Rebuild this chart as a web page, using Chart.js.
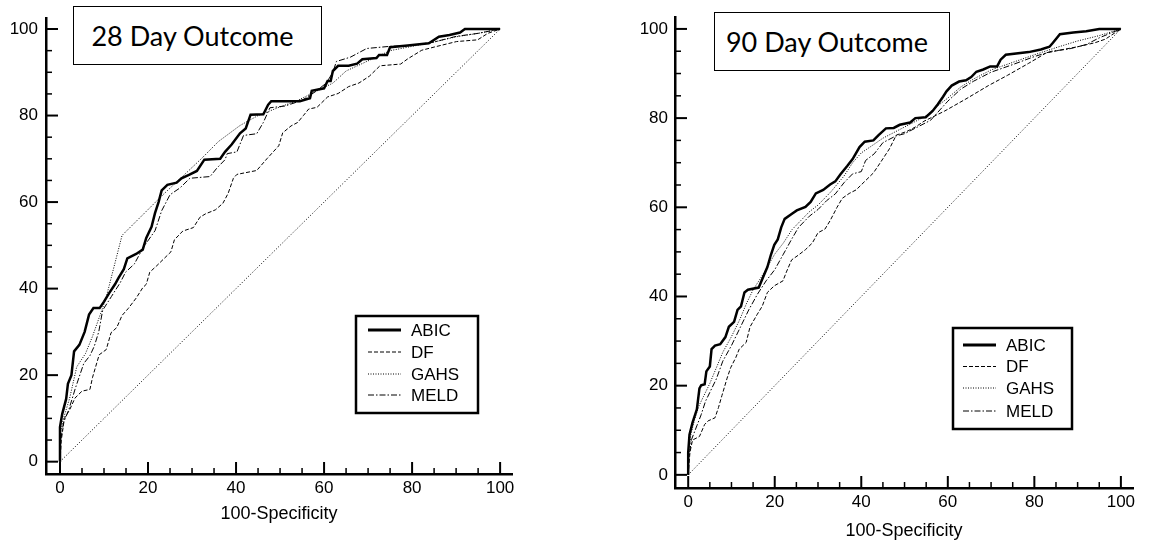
<!DOCTYPE html>
<html lang="en">
<head>
  <meta charset="UTF-8" />
  <title>ROC curves - 28 and 90 day outcome</title>
  <script src="https://cdn.jsdelivr.net/npm/chart.js"></script>
  <style>
    body { margin: 0; background: #fff; width: 1169px; height: 543px; position: relative; overflow: hidden; }
    canvas { position: absolute; top: 0; }
    .tag {
      position: absolute; box-sizing: border-box; border: 1.5px solid #000; background: #fff;
      font-family: Lato, "Open Sans", sans-serif; font-size: 27px; color: #000;
      display: flex; align-items: center; justify-content: center; padding-right: 10px;
    }
  </style>
</head>
<body>
  <canvas id="roc28" width="540" height="543" style="left:0"></canvas>
  <canvas id="roc90" width="569" height="543" style="left:600px"></canvas>
  <div class="tag" style="left:73px; top:6px; width:249px; height:59px;">28 Day Outcome</div>
  <div class="tag" style="left:714px; top:12px; width:236px; height:59px;">90 Day Outcome</div>

  <script>
    // tick labels and series names
    const tickValues = [0, 20, 40, 60, 80, 100];
    const minorStep = 5;
    const seriesNames = ["ABIC", "DF", "GAHS", "MELD"];
    const diagonal = [[0, 0], [100, 100]];

    // 28 day outcome: [100-specificity, sensitivity]
    const abic28 = [[0,0],[0,8],[0.5,11],[1.4,14.5],[1.8,18],[2.6,20],[3.2,25.5],[4.4,27],[5.6,30],[6.6,34],[7.6,35.5],[9,35.5],[10,37],[11.2,39],[12.5,41],[13.3,42.5],[14.5,44.5],[15.3,47],[17.3,48],[18.8,49],[19.6,51.7],[20.8,54.3],[21.6,57.5],[22.4,60],[23.1,62.7],[24.4,64],[26.5,64.5],[27.6,65.5],[29.3,66.3],[31.1,67.2],[32.8,69.8],[36.4,70],[37.5,71.6],[39,73.3],[40.9,75.9],[42.2,77],[43.3,80.2],[46.2,80.3],[47.3,82.5],[48,83.3],[54.5,83.3],[56.8,84],[57.2,85.7],[60,86.3],[60.8,88],[61.5,88],[62,90.3],[63.2,91.5],[65.6,91.5],[67.5,92],[68.7,93],[71.9,93.3],[72.5,94],[74.3,94],[75,95.8],[79,96.2],[83.8,96.7],[86.1,98.2],[88.5,98.6],[90.9,99.2],[92,100],[100,100]];
    const df28 = [[0,0],[0.3,5],[1,10],[2.2,12],[3.4,14.7],[5,16.3],[6.8,16.7],[7.4,19.5],[8.9,24.7],[10.5,25.9],[11.6,29.8],[12.9,31],[14.1,33.8],[15.5,35.4],[17.3,37.8],[18.8,40.2],[19.6,41],[20.4,43.8],[22,45.3],[23.6,46.9],[25.2,48.5],[26,51.3],[27.9,53.3],[30.3,54.1],[31.8,56.5],[33.1,57.3],[35.3,58.2],[37,59.7],[38.2,62],[39.4,65.5],[40.2,66.4],[44.7,67.3],[47,70],[49.7,73],[50.6,76],[52.5,77.6],[54,78.4],[55.3,80],[56.5,81.5],[58.4,81.9],[60.8,84.3],[63.2,85.1],[65.6,86.7],[67.9,87.5],[70.3,89.1],[72.7,91.5],[77.4,91.9],[79,93.1],[82.2,95.1],[85.3,95.9],[90.1,97.1],[94.9,97.5],[97.2,99],[100,100]];
    const gahs28 = [[0,0],[0,6],[0.8,10],[2.2,14.7],[3.8,21.9],[5.8,25],[7.4,29],[9.5,35],[10.5,38],[14.1,52.3],[23.4,61.7],[27.3,65.4],[32.5,70.4],[36,74],[40.9,77.7],[45,80],[50,82],[53.8,83.4],[58,85.5],[62,87.5],[65,90.3],[69.7,92.5],[75,95],[80,96],[85,97],[90,98.2],[95,99],[100,100]];
    const meld28 = [[0,0],[0,4],[0.8,9],[2,12],[3.5,17],[5.4,22.7],[6.8,24.5],[7.8,26.7],[8.8,30],[9.7,35],[11.7,38.2],[13.7,41.4],[14.9,43.8],[16.9,45.7],[18.9,49.5],[21.6,53.4],[23.1,58],[25,61.7],[27.3,63.3],[29.5,65.5],[34.1,65.9],[35.6,67.8],[37.5,69.8],[38,71.2],[40.2,71.6],[41.7,75.4],[44.7,75.8],[46.2,78.4],[47.7,81.8],[51.1,82.2],[55,83.5],[58,85.5],[60.5,87.5],[62,90],[62.8,92.5],[66,93.5],[69.7,95.5],[75,96],[80,96.2],[85,97],[90,98.3],[95,99],[100,100]];

    // 90 day outcome
    const abic90 = [[0,0],[0,5],[0.3,9],[1,11.7],[2,14.7],[2.6,19.4],[3,20.1],[3.8,20.3],[4.2,23.2],[5,24.3],[5.4,28.2],[6.2,29],[7.4,29.3],[8.6,30.9],[9.4,33.2],[10.6,34.3],[11.4,37],[12.2,37.8],[13,40.9],[13.8,41.5],[16.3,42],[17.3,44.3],[18.3,46.6],[19.1,49.3],[19.9,51.6],[20.7,52.8],[21.5,55.5],[22.3,57.4],[23.9,58.5],[25.1,59.3],[27.1,60.1],[28.3,61.2],[29.5,63.1],[31.2,63.9],[32.8,65.1],[34,65.8],[35.2,67.4],[36.8,69.3],[38,70.8],[39.6,73.5],[40.8,74.7],[42.8,75],[44,76.2],[45.7,77.7],[47.5,77.8],[48.9,78.5],[51.3,79],[52.5,80],[54.9,80.2],[56.5,81.6],[57.7,83.1],[58.9,84.8],[59.7,86],[60.9,87.3],[62.6,88.2],[64.2,88.5],[65.4,89.2],[66.6,90.4],[68.2,90.9],[69.8,91.6],[71.4,91.6],[72.2,93.1],[73.4,94.2],[78.7,94.8],[81.5,95.4],[83.5,96],[84.3,96.9],[85.9,98.8],[89,99.2],[92,99.5],[95,100],[100,100]];
    const df90 = [[0,0],[0.4,5],[1,7.8],[2.6,8.6],[3.8,11.3],[4.6,12.1],[6.2,12.8],[7,15.1],[7.8,17.8],[9,21.7],[9.8,24],[11,26.3],[11.8,28.2],[13.4,29.7],[14.3,33.2],[15.9,35.9],[17.1,37.8],[18.3,40.9],[19.9,42.4],[21.9,43.5],[22.7,45.5],[23.9,48.2],[25.5,49.3],[27.1,50.5],[28.7,52],[30,54.3],[31.6,55.1],[32.8,57],[34.4,60],[35.6,62],[37.2,63.1],[38.8,63.9],[40.8,65.8],[42.8,67.7],[44.4,70],[46.5,73.1],[48.1,76.2],[50.5,77],[52.5,78],[54.5,79.3],[59.3,81.6],[64.2,84.3],[69.4,87.3],[73.8,89.6],[78.7,92.3],[82.7,94.6],[86.7,95.4],[90,96],[94,96.9],[96.4,97.7],[100,100]];
    const gahs90 = [[0,0],[0,4],[0.6,9],[1.5,12.5],[2.5,15.5],[3.5,17.5],[5,20.5],[6.5,24],[8,27.5],[10,31],[12,35],[13.5,38.5],[15,41.5],[17,44.5],[18.5,47],[20,49.5],[22,52],[24,55],[26,57],[28,59],[30,60.5],[33,63.5],[36,67],[38,70],[40,72.2],[42,73.5],[45,75.5],[48,77],[50,78],[55,80.5],[58,83],[60,84.5],[63,87],[66,88.8],[70,90.8],[75,92.5],[80,94.2],[85,95.8],[90,97.3],[95,98.5],[100,100]];
    const meld90 = [[0,0],[0,3],[0.8,8],[2,11],[3,13.5],[4,16.5],[5,18.5],[6.5,21.5],[8,25.5],[10,29],[12,33],[14,37],[16,40.5],[18,43.5],[20,46],[22,49.5],[24,53],[25.5,55.5],[28,58],[30,59.5],[32,61.5],[34,63],[36,65.5],[38,67.5],[40,68],[41,70.5],[43,72],[45,74.5],[48,76],[50,76.5],[53,78],[56,79.5],[60,83.8],[63,86.5],[66,88.3],[70,90.3],[75,92],[80,93.8],[84,95],[88,95.5],[92,96.5],[95,98],[100,100]];

    const FONT = "'Liberation Sans', Arial, sans-serif";
    const lineStyles = [
      { borderWidth: 2.5, borderDash: [] },
      { borderWidth: 1, borderDash: [4, 2] },
      { borderWidth: 1, borderDash: [1, 1.5] },
      { borderWidth: 1, borderDash: [6, 2, 1.5, 2] }
    ];

    // ticks pointing into the plot, long ones at the labels
    const inwardTicks = {
      id: "inwardTicks",
      afterDraw(chart) {
        const { ctx, chartArea, scales: { x, y } } = chart;
        ctx.save();
        ctx.strokeStyle = "#000";
        for (let v = 0; v <= 100; v += minorStep) {
          const major = tickValues.includes(v);
          const len = major ? 12 : 6;
          ctx.lineWidth = major ? 2 : 1.5;
          const px = x.getPixelForValue(v);
          ctx.beginPath(); ctx.moveTo(px, chartArea.bottom); ctx.lineTo(px, chartArea.bottom - len); ctx.stroke();
          const py = y.getPixelForValue(v);
          ctx.beginPath(); ctx.moveTo(chartArea.left, py); ctx.lineTo(chartArea.left + len, py); ctx.stroke();
        }
        ctx.restore();
      }
    };

    // framed legend inside the plot
    const boxLegend = {
      id: "boxLegend",
      afterDraw(chart, args, o) {
        const ctx = chart.ctx;
        ctx.save();
        ctx.strokeStyle = "#000";
        ctx.lineWidth = 2.5;
        ctx.strokeRect(o.left, o.top, o.width, o.height);
        ctx.font = "17px " + FONT;
        ctx.fillStyle = "#000";
        ctx.textBaseline = "middle";
        chart.data.datasets.forEach((ds, i) => {
          if (!ds.label) return;
          const yy = o.rows[i];
          ctx.lineWidth = ds.borderWidth === 2.5 ? 3 : 1;
          ctx.setLineDash(ds.borderDash);
          ctx.beginPath(); ctx.moveTo(o.sampleLeft, yy); ctx.lineTo(o.sampleRight, yy); ctx.stroke();
          ctx.setLineDash([]);
          ctx.fillText(ds.label, o.textLeft, yy + 1);
        });
        ctx.restore();
      }
    };

    function makeChart(id, series, g) {
      const datasets = series.map((pts, i) => ({
        label: seriesNames[i],
        data: pts.map(p => ({ x: p[0], y: p[1] })),
        borderColor: "#000",
        borderWidth: lineStyles[i].borderWidth,
        borderDash: lineStyles[i].borderDash,
        pointRadius: 0,
        showLine: true,
        tension: 0,
        borderJoinStyle: "miter"
      }));
      datasets.push({
        label: "",
        data: diagonal.map(p => ({ x: p[0], y: p[1] })),
        borderColor: "#000", borderWidth: 1, borderDash: [1, 2],
        pointRadius: 0, showLine: true
      });

      return new Chart(document.getElementById(id), {
        type: "scatter",
        data: { datasets },
        options: {
          responsive: false,
          animation: false,
          layout: { padding: { top: g.padTop, right: g.padRight, left: 0, bottom: 0 } },
          plugins: { legend: { display: false }, tooltip: { enabled: false }, boxLegend: g.legend },
          scales: {
            x: {
              type: "linear", min: g.xMin, max: g.xMax,
              grid: { display: false, drawTicks: false },
              border: { display: true, color: "#000", width: 2.5 },
              afterBuildTicks: s => { s.ticks = tickValues.map(v => ({ value: v })); },
              afterFit: s => { s.height = g.xHeight; },
              ticks: { color: "#000", font: { family: FONT, size: 17 }, padding: 4, maxRotation: 0 },
              title: { display: true, text: "100-Specificity", color: "#000",
                       font: { family: FONT, size: 18 }, padding: { top: 0, bottom: g.titlePad } }
            },
            y: {
              type: "linear", min: g.yMin, max: g.yMax,
              grid: { display: false, drawTicks: false },
              border: { display: true, color: "#000", width: 2.5 },
              afterBuildTicks: s => { s.ticks = tickValues.map(v => ({ value: v })); },
              afterFit: s => { s.width = g.yWidth; },
              ticks: { color: "#000", font: { family: FONT, size: 17 }, padding: g.yPad }
            }
          }
        },
        plugins: [inwardTicks, boxLegend]
      });
    }

    makeChart("roc28", [abic28, df28, gahs28, meld28], {
      padTop: 12, padRight: 28, yWidth: 46, xHeight: 69, titlePad: 18, yPad: 8,
      xMin: -3.18, xMax: 102.7, yMin: -2.85, yMax: 102.5,
      legend: { left: 356, top: 316, width: 122, height: 97, rows: [330, 352, 374, 395],
                sampleLeft: 368, sampleRight: 401, textLeft: 411 }
    });

    makeChart("roc90", [abic90, df90, gahs90, meld90], {
      padTop: 9, padRight: 36, yWidth: 75, xHeight: 55, titlePad: 1, yPad: 7,
      xMin: -3.05, xMax: 102.8, yMin: -2.95, yMax: 102.63,
      legend: { left: 353, top: 328, width: 119, height: 101, rows: [345, 366.5, 388, 411],
                sampleLeft: 363, sampleRight: 396, textLeft: 406 }
    });
  </script>
</body>
</html>
